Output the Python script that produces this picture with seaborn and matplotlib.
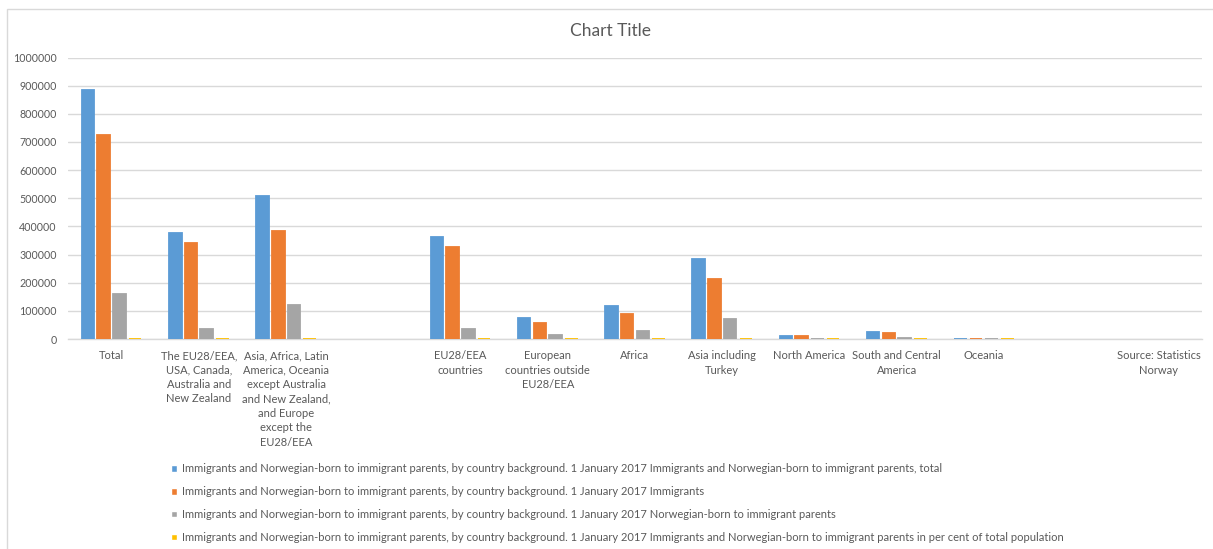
import numpy as np
import pandas as pd
import matplotlib
matplotlib.use("Agg")
import matplotlib.pyplot as plt
import seaborn as sns
from matplotlib.patches import Rectangle

# ---------------------------------------------------------
# data
# ---------------------------------------------------------
categories = [
    "Total",
    "The EU28/EEA, USA, Canada, Australia and New Zealand",
    "Asia, Africa, Latin America, Oceania except Australia and New Zealand, and Europe except the EU28/EEA",
    "",
    "EU28/EEA countries",
    "European countries outside EU28/EEA",
    "Africa",
    "Asia including Turkey",
    "North America",
    "South and Central America",
    "Oceania",
    " ",
    "Source: Statistics Norway",
]

tick_labels = [
    "Total",
    "The EU28/EEA,\nUSA, Canada,\nAustralia and\nNew Zealand",
    "Asia, Africa, Latin\nAmerica, Oceania\nexcept Australia\nand New Zealand,\nand Europe\nexcept the\nEU28/EEA",
    "",
    "EU28/EEA\ncountries",
    "European\ncountries outside\nEU28/EEA",
    "Africa",
    "Asia including\nTurkey",
    "North America",
    "South and Central\nAmerica",
    "Oceania",
    "",
    "Source: Statistics\nNorway",
]

nan = np.nan
total = [883751, 377000, 506700, nan, 363000, 74000, 119000, 284000, 11000, 25000, 1500, nan, nan]
immigrants = [724987, 341000, 382000, nan, 326000, 57000, 90000, 212000, 10500, 21000, 1300, nan, nan]
norw_born = [158764, 35000, 122000, nan, 36000, 15000, 28000, 72000, 1500, 4000, 300, nan, nan]
per_cent = [16.8, 7.2, 9.6, nan, 6.9, 1.4, 2.3, 5.4, 0.2, 0.5, 0.0, nan, nan]

prefix = "Immigrants and Norwegian-born to immigrant parents, by country background. 1 January 2017 "
series = [
    prefix + "Immigrants and Norwegian-born to immigrant parents, total",
    prefix + "Immigrants",
    prefix + "Norwegian-born to immigrant parents",
    prefix + "Immigrants and Norwegian-born to immigrant parents in per cent of total population",
]
colors = ["#5B9BD5", "#ED7D31", "#A5A5A5", "#FFC000"]

yticks = list(range(0, 1000001, 100000))

# long format table for seaborn
df = pd.DataFrame({
    "category": categories * 4,
    "series": np.repeat(series, len(categories)),
    "value": total + immigrants + norw_born + per_cent,
})

# ---------------------------------------------------------
# figure
# ---------------------------------------------------------
sns.set_style("white")
plt.rcParams["font.family"] = ["Lato", "DejaVu Sans"]
txt = "#595959"
grid = "#D9D9D9"

fig = plt.figure(figsize=(12.13, 5.49), dpi=100)
ax = fig.add_axes([68 / 1213, 1 - 339 / 549, (1202 - 68) / 1213, (339 - 57.5) / 549])

sns.barplot(
    data=df, x="category", y="value", hue="series",
    order=categories, hue_order=series, palette=colors,
    width=0.72, gap=0.2, errorbar=None, ax=ax, saturation=1,
)

# thin outline in the bar colour so the tiny bars still show as a line
for p in ax.patches:
    p.set_edgecolor(p.get_facecolor())
    p.set_linewidth(1.3)
    p.set_zorder(3)

ax.set_ylim(0, 1000000)
ax.set_xlim(-0.5, len(categories) - 0.5)
ax.set_yticks(yticks)
ax.set_yticklabels([str(v) for v in yticks])
ax.set_xticks(range(len(categories)))
ax.set_xticklabels(tick_labels, linespacing=1.38, va="top")
ax.tick_params(axis="y", length=0, pad=8, labelsize=7.7, labelcolor=txt)
ax.tick_params(axis="x", length=0, pad=8, labelsize=8.0, labelcolor=txt)
ax.set_xlabel("")
ax.set_ylabel("")

ax.yaxis.grid(True, color=grid, linewidth=1)
ax.set_axisbelow(True)
for s in ["top", "right", "left"]:
    ax.spines[s].set_visible(False)
ax.spines["bottom"].set_color(grid)
ax.spines["bottom"].set_linewidth(1)

fig.text(611 / 1213, 1 - 31 / 549, "Chart Title", ha="center", va="center",
         fontsize=12.5, color=txt)

sns.move_legend(
    ax, "upper left",
    bbox_to_anchor=(171 / 1213, 1 - 463.5 / 549), bbox_transform=fig.transFigure,
    frameon=False, title=None, fontsize=8.0, labelcolor=txt,
    handlelength=0.5, handleheight=0.5, handletextpad=0.45,
    labelspacing=1.06, borderpad=0, borderaxespad=0,
)

# chart area border (Excel style)
fig.patches.append(Rectangle((6.5 / 1213, -0.1), 1.2, 1 - 8.5 / 549 + 0.1,
                             transform=fig.transFigure, fill=False,
                             edgecolor=grid, linewidth=1))

fig.savefig("out.png", dpi=100)
